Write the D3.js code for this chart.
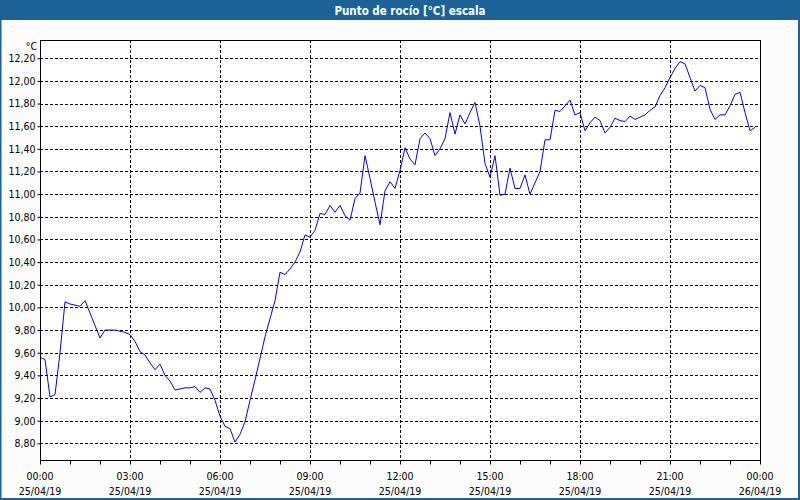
<!DOCTYPE html>
<html><head><meta charset="utf-8">
<script src="https://cdn.jsdelivr.net/npm/d3@7"></script>
<style>
html,body{margin:0;padding:0;background:#fbfcfb;}
svg{display:block;}
</style></head>
<body>
<svg id="chart" width="800" height="500"></svg>
<script>
const title = "Punto de rocío [°C] escala";
const unit = "°C";
const times = [
"00:00","00:10","00:20","00:30","00:40","00:50","01:00","01:10","01:20","01:30","01:40","01:50",
"02:00","02:10","02:20","02:30","02:40","02:50","03:00","03:10","03:20","03:30","03:40","03:50",
"04:00","04:10","04:20","04:30","04:40","04:50","05:00","05:10","05:20","05:30","05:40","05:50",
"06:00","06:10","06:20","06:30","06:40","06:50","07:00","07:10","07:20","07:30","07:40","07:50",
"08:00","08:10","08:20","08:30","08:40","08:50","09:00","09:10","09:20","09:30","09:40","09:50",
"10:00","10:10","10:20","10:30","10:40","10:50","11:00","11:10","11:20","11:30","11:40","11:50",
"12:00","12:10","12:20","12:30","12:40","12:50","13:00","13:10","13:20","13:30","13:40","13:50",
"14:00","14:10","14:20","14:30","14:40","14:50","15:00","15:10","15:20","15:30","15:40","15:50",
"16:00","16:10","16:20","16:30","16:40","16:50","17:00","17:10","17:20","17:30","17:40","17:50",
"18:00","18:10","18:20","18:30","18:40","18:50","19:00","19:10","19:20","19:30","19:40","19:50",
"20:00","20:10","20:20","20:30","20:40","20:50","21:00","21:10","21:20","21:30","21:40","21:50",
"22:00","22:10","22:20","22:30","22:40","22:50","23:00","23:10","23:20","23:30","23:40","23:50"];
const values = [
9.56,9.54,9.21,9.23,9.60,10.05,10.03,10.02,10.01,10.06,9.95,9.84,
9.73,9.80,9.80,9.80,9.79,9.78,9.76,9.70,9.61,9.58,9.51,9.45,
9.50,9.40,9.35,9.27,9.28,9.29,9.29,9.30,9.25,9.29,9.28,9.18,
9.04,8.95,8.93,8.81,8.88,8.99,9.18,9.36,9.55,9.74,9.90,10.06,
10.31,10.29,10.34,10.40,10.49,10.64,10.62,10.68,10.83,10.82,10.90,10.84,
10.90,10.81,10.77,10.96,11.01,11.34,11.14,10.93,10.73,11.03,11.11,11.05,
11.21,11.41,11.31,11.26,11.49,11.54,11.49,11.34,11.40,11.49,11.72,11.53,
11.70,11.62,11.72,11.81,11.60,11.27,11.15,11.34,10.99,11.00,11.23,11.05,
11.05,11.17,11.00,11.10,11.20,11.48,11.48,11.74,11.73,11.78,11.83,11.70,
11.72,11.56,11.63,11.68,11.65,11.54,11.59,11.67,11.65,11.64,11.69,11.66,
11.68,11.70,11.74,11.77,11.87,11.94,12.03,12.11,12.17,12.15,12.03,11.91,
11.96,11.94,11.75,11.66,11.70,11.70,11.78,11.88,11.90,11.72,11.56,11.59];
const yTicks = [8.8,9.0,9.2,9.4,9.6,9.8,10.0,10.2,10.4,10.6,10.8,11.0,11.2,11.4,11.6,11.8,12.0,12.2];
const yDomain = [8.644, 12.361];
const xStart = "2019-04-25T00:00";
const xEnd = "2019-04-26T00:00";

const svg = d3.select("#chart");
const W = 800, H = 500;
const L = 40, R = 760, T = 40, B = 461;
const font = "'DejaVu Sans Condensed','DejaVu Sans',sans-serif";

const parseDT = d3.timeParse("%Y-%m-%dT%H:%M");
const t0 = parseDT(xStart), t1 = parseDT(xEnd);
const data = times.map((t, i) => ({ date: parseDT("2019-04-25T" + t), v: values[i] }));

const x = d3.scaleTime().domain([t0, t1]).range([L, R]);
const y = d3.scaleLinear().domain(yDomain).range([B, T]);

// title bar
svg.append("rect").attr("x", 0).attr("y", 0).attr("width", W).attr("height", 20).attr("fill", "#1d6296");
svg.append("text").attr("x", 410).attr("y", 14.5).attr("text-anchor", "middle")
  .attr("fill", "#ffffff").attr("font-family", font).attr("font-weight", "bold")
  .attr("font-size", "11.5px").text(title);

// plot background
svg.append("rect").attr("x", L).attr("y", T).attr("width", R - L).attr("height", B - T).attr("fill", "#ffffff");

// grid
const hourTicks = d3.timeHour.every(1).range(t0, d3.timeMinute.offset(t1, 1));
const majorTicks = d3.timeHour.every(3).range(t0, d3.timeMinute.offset(t1, 1));
const g = svg.append("g");
g.selectAll("line.hg").data(yTicks).join("line")
  .attr("x1", L).attr("x2", R)
  .attr("y1", d => Math.round(y(d)) + 0.5).attr("y2", d => Math.round(y(d)) + 0.5)
  .attr("stroke", "#000").attr("stroke-width", 1).attr("stroke-dasharray", "3,2");
g.selectAll("line.vg").data(majorTicks.filter(d => +d !== +t0 && +d !== +t1)).join("line")
  .attr("x1", d => Math.round(x(d)) + 0.5).attr("x2", d => Math.round(x(d)) + 0.5)
  .attr("y1", T).attr("y2", B)
  .attr("stroke", "#000").attr("stroke-width", 1).attr("stroke-dasharray", "3,2");

// line
const line = d3.line().x(d => x(d.date)).y(d => y(d.v));
svg.append("path").datum(data).attr("d", line).attr("fill", "none")
  .attr("stroke", "#0000ff").attr("stroke-width", 1);

// frame
svg.append("rect").attr("x", L + 0.5).attr("y", T + 0.5).attr("width", R - L).attr("height", B - T - 1)
  .attr("fill", "none").attr("stroke", "#000").attr("stroke-width", 1);

// x axis
const xAxis = d3.axisBottom(x).tickValues(hourTicks).tickSize(4).tickFormat("");
const xg = svg.append("g").attr("transform", `translate(0,${B - 0.5})`).call(xAxis);
xg.select(".domain").remove();
xg.selectAll(".tick line").attr("stroke", "#000");
const lab = svg.append("g").attr("font-family", font).attr("font-size", "10.5px").attr("fill", "#000");
lab.selectAll("text.t1").data(majorTicks).join("text")
  .attr("x", d => x(d)).attr("y", 480).attr("text-anchor", "middle")
  .text(d => d3.timeFormat("%H:%M")(d));
lab.selectAll("text.t2").data(majorTicks).join("text")
  .attr("x", d => x(d)).attr("y", 495).attr("text-anchor", "middle")
  .text(d => d3.timeFormat("%d/%m/%y")(d));

// y axis
const fmt = v => d3.format(".2f")(v).replace(".", ",");
const yAxis = d3.axisLeft(y).tickValues(yTicks).tickSize(3).tickFormat(fmt);
const yg = svg.append("g").attr("transform", `translate(${L + 0.5},0)`).call(yAxis);
yg.select(".domain").remove();
yg.selectAll(".tick line").attr("stroke", "#000");
yg.selectAll(".tick text").attr("font-family", font).attr("font-size", "10.5px").attr("fill", "#000").attr("x", -5);
svg.append("text").attr("x", 37).attr("y", 50).attr("text-anchor", "end")
  .attr("font-family", font).attr("font-size", "10.5px").attr("fill", "#000").text(unit);

// outer frame
svg.append("rect").attr("x", 0.5).attr("y", 0.5).attr("width", W - 1.5).attr("height", H - 1.5)
  .attr("fill", "none").attr("stroke", "#1d6296").attr("stroke-width", 2);
</script>
</body></html>
